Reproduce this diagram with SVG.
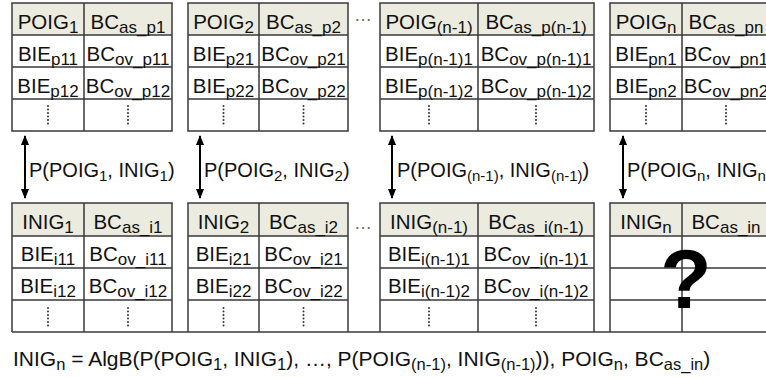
<svg xmlns="http://www.w3.org/2000/svg" width="766" height="378" viewBox="0 0 766 378">
  <style>
    text { font-family: "Liberation Sans", Arial, sans-serif; font-size: 20.5px; fill: #111; }
    .c { text-anchor: middle; }
    .sub { font-size: 17px; }
    .lbl { font-size: 20px; }
    .lbl .sub { font-size: 15px; }
    .hdr { fill: #ecebe0; stroke: none; }
    .grid { stroke: #3a3a3a; stroke-width: 1.5; fill: none; }
    .vdots { stroke: #333; stroke-width: 2; stroke-linecap: round; stroke-dasharray: 0 3.5; fill: none; }
    .hdots { fill: #666; font-size: 18px; }
    .link { stroke: #000; stroke-width: 2; fill: none; marker-start: url(#head); marker-end: url(#head); }
    .q { font-size: 84px; font-weight: bold; text-anchor: middle; fill: #000; }
    .formula { font-size: 21px; }
    .formula .sub { font-size: 16.5px; }
  </style>
  <defs>
    <marker id="head" viewBox="0 0 10 10" refX="9" refY="5" markerWidth="5" markerHeight="5" orient="auto-start-reverse">
      <path d="M0,1 L10,5 L0,9 z" fill="#000"/>
    </marker>
  </defs>

  <rect width="766" height="378" fill="#fff"/>

  <!-- upper tables: POIG -->
  <g id="poig1">
    <rect class="hdr" x="12" y="3" width="160" height="32"/>
    <path class="grid" d="M12,3H172V131H12Z M84,3V131 M12,35H172 M12,67H172 M12,99H172"/>
    <text class="c" x="48" y="29">POIG<tspan class="sub" dy="4">1</tspan></text>
    <text class="c" x="128" y="29">BC<tspan class="sub" dy="4">as_p1</tspan></text>
    <text class="c" x="48" y="61">BIE<tspan class="sub" dy="4">p11</tspan></text>
    <text class="c" x="128" y="61">BC<tspan class="sub" dy="4">ov_p11</tspan></text>
    <text class="c" x="48" y="93">BIE<tspan class="sub" dy="4">p12</tspan></text>
    <text class="c" x="128" y="93">BC<tspan class="sub" dy="4">ov_p12</tspan></text>
    <path class="vdots" d="M48,106V124 M128,106V124"/>
  </g>
  <g id="poig2">
    <rect class="hdr" x="188" y="3" width="160" height="32"/>
    <path class="grid" d="M188,3H348V131H188Z M259,3V131 M188,35H348 M188,67H348 M188,99H348"/>
    <text class="c" x="223.5" y="29">POIG<tspan class="sub" dy="4">2</tspan></text>
    <text class="c" x="303.5" y="29">BC<tspan class="sub" dy="4">as_p2</tspan></text>
    <text class="c" x="223.5" y="61">BIE<tspan class="sub" dy="4">p21</tspan></text>
    <text class="c" x="303.5" y="61">BC<tspan class="sub" dy="4">ov_p21</tspan></text>
    <text class="c" x="223.5" y="93">BIE<tspan class="sub" dy="4">p22</tspan></text>
    <text class="c" x="303.5" y="93">BC<tspan class="sub" dy="4">ov_p22</tspan></text>
    <path class="vdots" d="M223.5,106V124 M303.5,106V124"/>
  </g>
  <text class="hdots" x="354" y="21">…</text>
  <g id="poig3">
    <rect class="hdr" x="380" y="3" width="214" height="32"/>
    <path class="grid" d="M380,3H594V131H380Z M478,3V131 M380,35H594 M380,67H594 M380,99H594"/>
    <text class="c" x="429" y="29">POIG<tspan class="sub" dy="4">(n-1)</tspan></text>
    <text class="c" x="536" y="29">BC<tspan class="sub" dy="4">as_p(n-1)</tspan></text>
    <text class="c" x="429" y="61">BIE<tspan class="sub" dy="4">p(n-1)1</tspan></text>
    <text class="c" x="536" y="61">BC<tspan class="sub" dy="4">ov_p(n-1)1</tspan></text>
    <text class="c" x="429" y="93">BIE<tspan class="sub" dy="4">p(n-1)2</tspan></text>
    <text class="c" x="536" y="93">BC<tspan class="sub" dy="4">ov_p(n-1)2</tspan></text>
    <path class="vdots" d="M429,106V124 M536,106V124"/>
  </g>
  <g id="poign">
    <rect class="hdr" x="610" y="3" width="160" height="32"/>
    <path class="grid" d="M770,3H610V131H770 M682,3V131 M610,35H770 M610,67H770 M610,99H770"/>
    <text class="c" x="646" y="29">POIG<tspan class="sub" dy="4">n</tspan></text>
    <text class="c" x="726" y="29">BC<tspan class="sub" dy="4">as_pn</tspan></text>
    <text class="c" x="646" y="61">BIE<tspan class="sub" dy="4">pn1</tspan></text>
    <text class="c" x="726" y="61">BC<tspan class="sub" dy="4">ov_pn1</tspan></text>
    <text class="c" x="646" y="93">BIE<tspan class="sub" dy="4">pn2</tspan></text>
    <text class="c" x="726" y="93">BC<tspan class="sub" dy="4">ov_pn2</tspan></text>
    <path class="vdots" d="M646,106V124 M726,106V124"/>
  </g>

  <!-- lower tables: INIG -->
  <g id="inig1">
    <rect class="hdr" x="12" y="203" width="160" height="33"/>
    <path class="grid" d="M12,332V203H172V332 M84,203V332 M12,236H172 M12,268H172 M12,300H172"/>
    <text class="c" x="48" y="229">INIG<tspan class="sub" dy="4">1</tspan></text>
    <text class="c" x="128" y="229">BC<tspan class="sub" dy="4">as_i1</tspan></text>
    <text class="c" x="48" y="261">BIE<tspan class="sub" dy="4">i11</tspan></text>
    <text class="c" x="128" y="261">BC<tspan class="sub" dy="4">ov_i11</tspan></text>
    <text class="c" x="48" y="293">BIE<tspan class="sub" dy="4">i12</tspan></text>
    <text class="c" x="128" y="293">BC<tspan class="sub" dy="4">ov_i12</tspan></text>
    <path class="vdots" d="M48,308V326 M128,308V326"/>
  </g>
  <g id="inig2">
    <rect class="hdr" x="188" y="203" width="160" height="33"/>
    <path class="grid" d="M188,332V203H348V332 M259,203V332 M188,236H348 M188,268H348 M188,300H348"/>
    <text class="c" x="223.5" y="229">INIG<tspan class="sub" dy="4">2</tspan></text>
    <text class="c" x="303.5" y="229">BC<tspan class="sub" dy="4">as_i2</tspan></text>
    <text class="c" x="223.5" y="261">BIE<tspan class="sub" dy="4">i21</tspan></text>
    <text class="c" x="303.5" y="261">BC<tspan class="sub" dy="4">ov_i21</tspan></text>
    <text class="c" x="223.5" y="293">BIE<tspan class="sub" dy="4">i22</tspan></text>
    <text class="c" x="303.5" y="293">BC<tspan class="sub" dy="4">ov_i22</tspan></text>
    <path class="vdots" d="M223.5,308V326 M303.5,308V326"/>
  </g>
  <text class="hdots" x="354" y="229">…</text>
  <g id="inig3">
    <rect class="hdr" x="380" y="203" width="214" height="33"/>
    <path class="grid" d="M380,332V203H594V332 M478,203V332 M380,236H594 M380,268H594 M380,300H594"/>
    <text class="c" x="429" y="229">INIG<tspan class="sub" dy="4">(n-1)</tspan></text>
    <text class="c" x="536" y="229">BC<tspan class="sub" dy="4">as_i(n-1)</tspan></text>
    <text class="c" x="429" y="261">BIE<tspan class="sub" dy="4">i(n-1)1</tspan></text>
    <text class="c" x="536" y="261">BC<tspan class="sub" dy="4">ov_i(n-1)1</tspan></text>
    <text class="c" x="429" y="293">BIE<tspan class="sub" dy="4">i(n-1)2</tspan></text>
    <text class="c" x="536" y="293">BC<tspan class="sub" dy="4">ov_i(n-1)2</tspan></text>
    <path class="vdots" d="M429,308V326 M536,308V326"/>
  </g>
  <g id="inign">
    <rect class="hdr" x="610" y="203" width="160" height="33"/>
    <path class="grid" d="M610,332V203H770 M682,203V332 M610,236H770 M610,268H770 M610,300H770"/>
    <text class="c" x="646" y="229">INIG<tspan class="sub" dy="4">n</tspan></text>
    <text class="c" x="726" y="229">BC<tspan class="sub" dy="4">as_in</tspan></text>
    <text class="q" x="686" y="308">?</text>
  </g>
  <!-- common base line under the lower tables -->
  <path class="grid" d="M12,332H766"/>

  <!-- pairings between POIG and INIG -->
  <g id="connectors">
    <line class="link" x1="25" y1="136" x2="25" y2="198"/>
    <line class="link" x1="200" y1="136" x2="200" y2="198"/>
    <line class="link" x1="392" y1="136" x2="392" y2="198"/>
    <line class="link" x1="623" y1="136" x2="623" y2="198"/>
    <text class="lbl" x="29" y="177">P(POIG<tspan class="sub" dy="4">1</tspan><tspan dy="-4">, INIG</tspan><tspan class="sub" dy="4">1</tspan><tspan dy="-4">)</tspan></text>
    <text class="lbl" x="204" y="177">P(POIG<tspan class="sub" dy="4">2</tspan><tspan dy="-4">, INIG</tspan><tspan class="sub" dy="4">2</tspan><tspan dy="-4">)</tspan></text>
    <text class="lbl" x="397" y="177">P(POIG<tspan class="sub" dy="4">(n-1)</tspan><tspan dy="-4">, INIG</tspan><tspan class="sub" dy="4">(n-1)</tspan><tspan dy="-4">)</tspan></text>
    <text class="lbl" x="627" y="177">P(POIG<tspan class="sub" dy="4">n</tspan><tspan dy="-4">, INIG</tspan><tspan class="sub" dy="4">n</tspan><tspan dy="-4">)</tspan></text>
  </g>

  <!-- formula -->
  <text class="formula" x="13" y="366">INIG<tspan class="sub" dy="4">n</tspan><tspan dy="-4"> = AlgB(P(POIG</tspan><tspan class="sub" dy="4">1</tspan><tspan dy="-4">, INIG</tspan><tspan class="sub" dy="4">1</tspan><tspan dy="-4">), …, P(POIG</tspan><tspan class="sub" dy="4">(n-1)</tspan><tspan dy="-4">, INIG</tspan><tspan class="sub" dy="4">(n-1)</tspan><tspan dy="-4">)), POIG</tspan><tspan class="sub" dy="4">n</tspan><tspan dy="-4">, BC</tspan><tspan class="sub" dy="4">as_in</tspan><tspan dy="-4">)</tspan></text>
</svg>
